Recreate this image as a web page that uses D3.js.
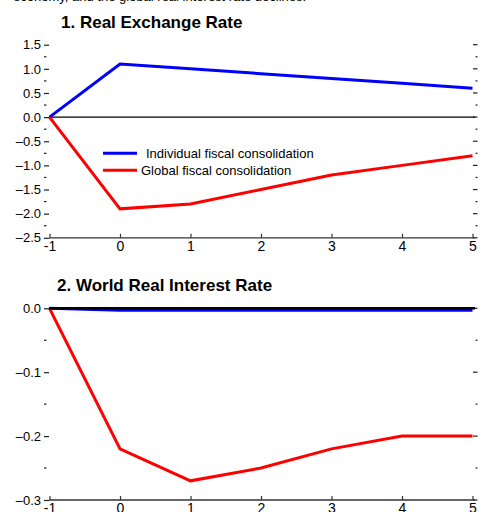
<!DOCTYPE html>
<meta charset="utf-8">
<script src="https://d3js.org/d3.v7.min.js"></script>
<style>
  body { margin: 0; background: #fff; }
  svg { display: block; font-family: Arial, "Liberation Sans", sans-serif; }
</style>
<div id="chart"></div>
<script>
// data
var years = [-1, 0, 1, 2, 3, 4, 5];
var rerIndividual = [0, 1.1, 1.0, 0.9, 0.8, 0.7, 0.6];
var rerGlobal = [0, -1.9, -1.8, -1.5, -1.2, -1.0, -0.8];
var rateIndividual = [0, -0.003, -0.003, -0.003, -0.003, -0.003, -0.003];
var rateGlobal = [0, -0.22, -0.27, -0.25, -0.22, -0.20, -0.20];
var rerTicks = [1.5, 1.0, 0.5, 0.0, -0.5, -1.0, -1.5, -2.0, -2.5];
var rateTicks = [0.0, -0.1, -0.2, -0.3];
var legendLabels = ["Individual fiscal consolidation", "Global fiscal consolidation"];

var W = 482, H = 512;
var svg = d3.select("#chart").append("svg")
  .attr("width", W).attr("height", H);

// cut-off line of body text above the chart
svg.append("text")
  .attr("x", 13).attr("y", 1)
  .style("font-size", "13px")
  .text("economy, and the global real interest rate declines.");

var x = d3.scaleLinear().domain([-1, 5]).range([49.5, 472.5]);

function dash(s) { return s.replace("-", "\u2013").replace("\u2212", "\u2013"); }

function panel(opts) {
  var y = opts.y;
  var g = svg.append("g");

  g.append("text")
    .attr("x", opts.titleX).attr("y", opts.titleY)
    .style("font-size", "17px").style("font-weight", "bold")
    .text(opts.title);

  // left major ticks + labels
  var left = g.append("g")
    .attr("transform", "translate(49,0)")
    .call(d3.axisLeft(y).tickValues(opts.ticks).tickSize(5).tickPadding(3)
      .tickFormat(function(d) { return dash(d3.format(".1f")(d)); }));
  left.select(".domain").remove();
  left.selectAll("text").style("font-size", "13px").attr("fill", "#000");
  left.selectAll("line").attr("stroke", "#222").attr("stroke-width", 1.2);

  // minor ticks both sides
  g.selectAll(".minorL").data(opts.minor).enter().append("line")
    .attr("x1", 44).attr("x2", 46.5)
    .attr("y1", function(d) { return y(d); }).attr("y2", function(d) { return y(d); })
    .attr("stroke", "#222").attr("stroke-width", 1.2);
  g.selectAll(".majorR").data(opts.ticks).enter().append("line")
    .attr("x1", 473).attr("x2", 477.5)
    .attr("y1", function(d) { return y(d); }).attr("y2", function(d) { return y(d); })
    .attr("stroke", "#222").attr("stroke-width", 1.2);
  g.selectAll(".minorR").data(opts.minor).enter().append("line")
    .attr("x1", 475.5).attr("x2", 477.5)
    .attr("y1", function(d) { return y(d); }).attr("y2", function(d) { return y(d); })
    .attr("stroke", "#222").attr("stroke-width", 1.2);

  // bottom axis, ticks pointing up
  var bottom = g.append("g")
    .attr("transform", "translate(0," + y(opts.ticks[opts.ticks.length - 1]) + ")")
    .call(d3.axisBottom(x).tickValues(years).tickSizeInner(-4).tickSizeOuter(0).tickPadding(3)
      .tickFormat(function(d) { return d < 0 ? "-" + (-d) : d; }));
  bottom.select(".domain").attr("stroke", "#333").attr("stroke-width", 1.3)
    .attr("d", "M49,0H475");
  bottom.selectAll("line").attr("stroke", "#333").attr("stroke-width", 1.2);
  bottom.selectAll("text").style("font-size", "14px").attr("fill", "#000");

  var line = d3.line()
    .x(function(d, i) { return x(years[i]); })
    .y(function(d) { return y(d); });

  if (opts.zeroFirst) {
    g.append("line").attr("x1", 49).attr("x2", 475)
      .attr("y1", y(0)).attr("y2", y(0))
      .attr("stroke", "#000").attr("stroke-width", opts.zeroWidth);
  }
  g.append("path").datum(opts.blue).attr("d", line)
    .attr("fill", "none").attr("stroke", "#0000ff").attr("stroke-width", 3);
  g.append("path").datum(opts.red).attr("d", line)
    .attr("fill", "none").attr("stroke", "#ff0000").attr("stroke-width", 3);
  if (!opts.zeroFirst) {
    g.append("line").attr("x1", 49).attr("x2", 475)
      .attr("y1", y(0)).attr("y2", y(0))
      .attr("stroke", "#000").attr("stroke-width", opts.zeroWidth);
  }
  return g;
}

var y1 = d3.scaleLinear().domain([-2.5, 1.5]).range([237.8, 44.7]);
var p1 = panel({
  y: y1, ticks: rerTicks,
  minor: [1.25, 0.75, 0.25, -0.25, -0.75, -1.25, -1.75, -2.25],
  title: "1. Real Exchange Rate", titleX: 61, titleY: 28,
  blue: rerIndividual, red: rerGlobal, zeroFirst: true, zeroWidth: 1.4
});

// legend
var legendColors = ["#0000ff", "#ff0000"];
var legendTextX = [146, 141];
legendLabels.forEach(function(lab, i) {
  var ly = 153.3 + i * 17;
  p1.append("line").attr("x1", 103).attr("x2", 137)
    .attr("y1", ly).attr("y2", ly)
    .attr("stroke", legendColors[i]).attr("stroke-width", 3);
  p1.append("text").attr("x", legendTextX[i]).attr("y", ly + 5)
    .style("font-size", "13px").text(lab);
});

var y2 = d3.scaleLinear().domain([-0.3, 0]).range([500, 308.3]);
panel({
  y: y2, ticks: rateTicks,
  minor: [-0.05, -0.15, -0.25],
  title: "2. World Real Interest Rate", titleX: 57, titleY: 291,
  blue: rateIndividual, red: rateGlobal, zeroFirst: false, zeroWidth: 2.4
});
</script>
